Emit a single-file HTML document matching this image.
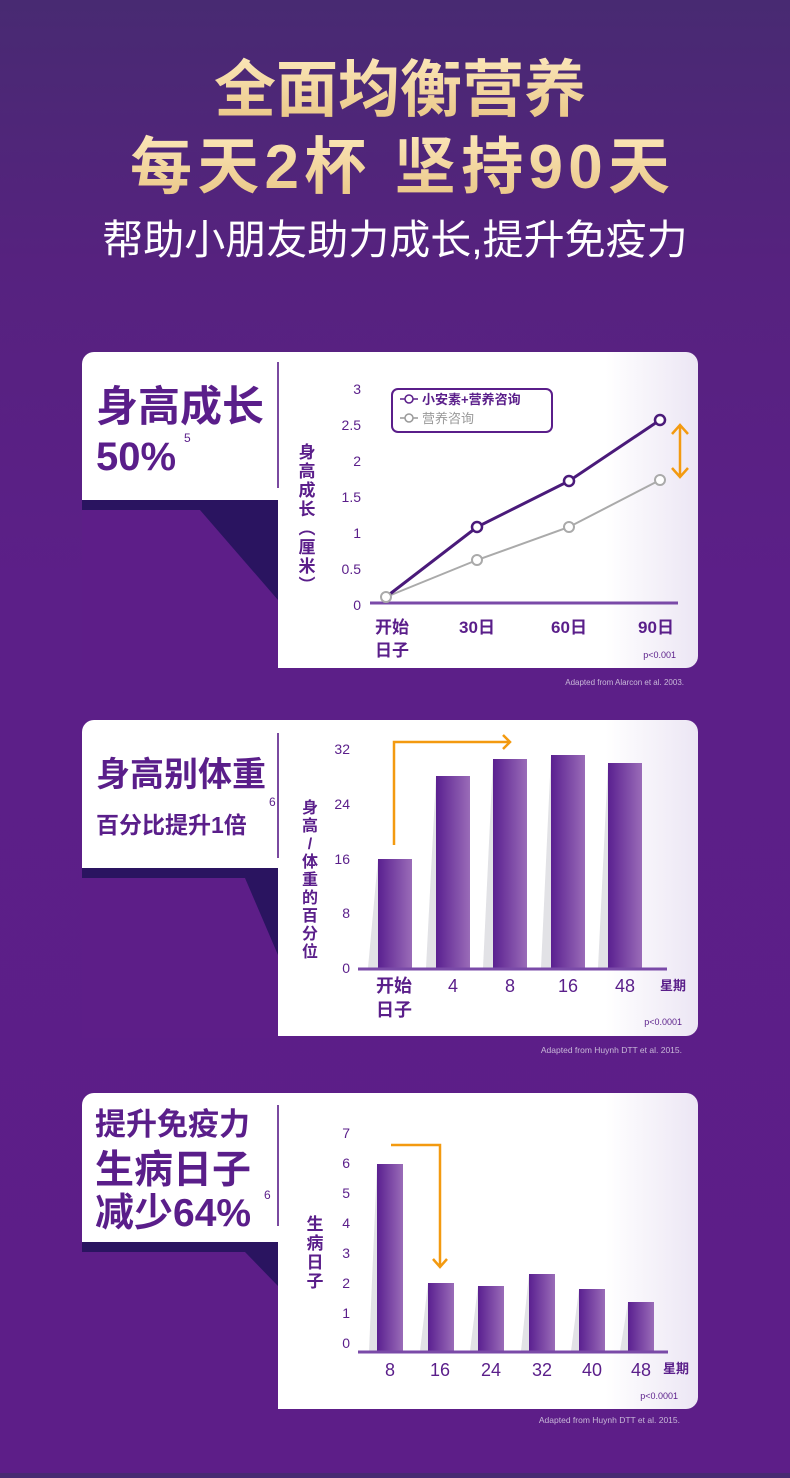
<!DOCTYPE html>
<html><head><meta charset="utf-8"><style>
html,body{margin:0;padding:0}
body{width:790px;height:1473px;overflow:hidden;background:linear-gradient(180deg,#482a72 0%,#56227f 18%,#5c1f88 40%,#5d1e88 100%);font-family:"Liberation Sans","Noto Sans CJK SC",sans-serif}
svg text{font-family:"Liberation Sans","Noto Sans CJK SC",sans-serif}
</style></head><body>
<svg width="790" height="1473" viewBox="0 0 790 1473" xmlns="http://www.w3.org/2000/svg">
<defs>
<linearGradient id="gold" x1="0" y1="0" x2="0" y2="1"><stop offset="0" stop-color="#fbe6b8"/><stop offset="1" stop-color="#e9c585"/></linearGradient>
<linearGradient id="bar" x1="0" y1="0" x2="1" y2="0"><stop offset="0" stop-color="#5a2090"/><stop offset="1" stop-color="#9a6cb8"/></linearGradient>
<linearGradient id="card" x1="0" y1="0" x2="1" y2="0"><stop offset="0" stop-color="#fff"/><stop offset="0.85" stop-color="#fff"/><stop offset="1" stop-color="#ece6f4"/></linearGradient>
</defs>
<text x="400" y="111" text-anchor="middle" font-size="62" font-weight="bold" fill="url(#gold)">全面均衡营养</text>
<text x="400" y="188" text-anchor="middle" font-size="62" font-weight="bold" fill="url(#gold)" textLength="540" lengthAdjust="spacing">每天2杯  坚持90天</text>
<text x="395" y="254" text-anchor="middle" font-size="41" fill="#fff">帮助小朋友助力成长,提升免疫力</text>

<!-- Card 1 -->
<g>
<rect x="82" y="352" width="616" height="316" rx="12" fill="url(#card)"/>
<rect x="82" y="500" width="196" height="170" fill="#5d1e88"/>
<path d="M82 500 L278 500 L278 600 L200 510 L82 510 Z" fill="#2a1460"/>
<path d="M82 490 Q82 500 92 500 L278 500 L278 490 Z" fill="#fff"/>
<line x1="278" y1="362" x2="278" y2="488" stroke="#7a4aa0" stroke-width="2"/>
<text x="96" y="421" font-size="42" font-weight="bold" fill="#5a1e8a">身高成长</text>
<text x="96" y="470" font-size="40" font-weight="bold" fill="#5a1e8a">50%</text>
<text x="184" y="442" font-size="12" fill="#5a1e8a">5</text>
<g font-size="14" fill="#5a1e8a" text-anchor="end">
<text x="361" y="394">3</text><text x="361" y="430">2.5</text><text x="361" y="466">2</text><text x="361" y="502">1.5</text><text x="361" y="538">1</text><text x="361" y="574">0.5</text><text x="361" y="610">0</text></g>
<g font-size="17" font-weight="bold" fill="#5a1e8a" text-anchor="middle">
<text x="307" y="458">身</text><text x="307" y="477">高</text><text x="307" y="496">成</text><text x="307" y="515">长</text><text x="307" y="534">︵</text><text x="307" y="553">厘</text><text x="307" y="572">米</text><text x="307" y="591">︶</text></g>
<line x1="370" y1="603" x2="678" y2="603" stroke="#7a4aa8" stroke-width="3"/>
<rect x="392" y="389" width="160" height="43" rx="6" fill="#fff" stroke="#5a1e8a" stroke-width="2"/>
<line x1="400" y1="399" x2="418" y2="399" stroke="#5a1e8a" stroke-width="1.5"/><circle cx="409" cy="399" r="4" fill="#fff" stroke="#5a1e8a" stroke-width="1.5"/>
<text x="422" y="404" font-size="13" font-weight="bold" fill="#5a1e8a">小安素+营养咨询</text>
<line x1="400" y1="418" x2="418" y2="418" stroke="#999" stroke-width="1.5"/><circle cx="409" cy="418" r="4" fill="#fff" stroke="#999" stroke-width="1.5"/>
<text x="422" y="423" font-size="13" fill="#999">营养咨询</text>
<polyline points="386,597 477,560 569,527 660,480" fill="none" stroke="#aaa" stroke-width="2"/>
<polyline points="386,597 477,527 569,481 660,420" fill="none" stroke="#4a1a7a" stroke-width="3"/>
<g fill="#fff" stroke="#aaa" stroke-width="2"><circle cx="386" cy="597" r="5"/><circle cx="477" cy="560" r="5"/><circle cx="569" cy="527" r="5"/><circle cx="660" cy="480" r="5"/></g>
<g fill="#fff" stroke="#4a1a7a" stroke-width="2.5"><circle cx="477" cy="527" r="5"/><circle cx="569" cy="481" r="5"/><circle cx="660" cy="420" r="5"/></g>
<path d="M680 425 L680 477 M672 434 L680 425 L688 434 M672 468 L680 477 L688 468" fill="none" stroke="#f39a10" stroke-width="2.5"/>
<g font-size="17" font-weight="bold" fill="#5a1e8a" text-anchor="middle">
<text x="392" y="633">开始</text><text x="392" y="656">日子</text><text x="477" y="633">30日</text><text x="569" y="633">60日</text><text x="656" y="633">90日</text></g>
<text x="676" y="658" text-anchor="end" font-size="9" fill="#5a1e8a">p&lt;0.001</text>
<text x="684" y="685" text-anchor="end" font-size="8" fill="#c8b8d8" font-family="Liberation Mono">Adapted from Alarcon et al. 2003.</text>
</g>

<!-- Card 2 -->
<g>
<rect x="82" y="720" width="616" height="316" rx="12" fill="url(#card)"/>
<rect x="82" y="868" width="196" height="170" fill="#5d1e88"/>
<path d="M82 868 L278 868 L278 955 L245 878 L82 878 Z" fill="#2a1460"/>
<path d="M82 858 Q82 868 92 868 L278 868 L278 858 Z" fill="#fff"/>
<line x1="278" y1="733" x2="278" y2="858" stroke="#7a4aa0" stroke-width="2"/>
<text x="96" y="786" font-size="34" font-weight="bold" fill="#5a1e8a">身高别体重</text>
<text x="96" y="833" font-size="23" font-weight="bold" fill="#5a1e8a">百分比提升1倍</text>
<text x="269" y="806" font-size="12" fill="#5a1e8a">6</text>
<g font-size="14" fill="#5a1e8a" text-anchor="end">
<text x="350" y="754">32</text><text x="350" y="809">24</text><text x="350" y="864">16</text><text x="350" y="918">8</text><text x="350" y="973">0</text></g>
<g font-size="16" font-weight="bold" fill="#5a1e8a" text-anchor="middle">
<text x="310" y="813">身</text><text x="310" y="831">高</text><text x="310" y="849">/</text><text x="310" y="867">体</text><text x="310" y="885">重</text><text x="310" y="903">的</text><text x="310" y="921">百</text><text x="310" y="939">分</text><text x="310" y="957">位</text></g>
<g fill="#e2e2e6">
<polygon points="368,968 378,859 378,968"/><polygon points="426,968 436,776 436,968"/><polygon points="483,968 493,759 493,968"/><polygon points="541,968 551,755 551,968"/><polygon points="598,968 608,763 608,968"/></g>
<g fill="url(#bar)">
<rect x="378" y="859" width="34" height="109"/><rect x="436" y="776" width="34" height="192"/><rect x="493" y="759" width="34" height="209"/><rect x="551" y="755" width="34" height="213"/><rect x="608" y="763" width="34" height="205"/></g>
<line x1="358" y1="969" x2="667" y2="969" stroke="#7a4aa8" stroke-width="3"/>
<path d="M394 845 L394 742 L510 742 M503 735 L510 742 L503 749" fill="none" stroke="#f39a10" stroke-width="2.5"/>
<g font-size="18" fill="#5a1e8a" text-anchor="middle">
<text x="394" y="992" font-weight="bold">开始</text><text x="394" y="1016" font-weight="bold">日子</text><text x="453" y="992">4</text><text x="510" y="992">8</text><text x="568" y="992">16</text><text x="625" y="992">48</text></g>
<text x="673" y="990" text-anchor="middle" font-size="13" font-weight="bold" fill="#5a1e8a">星期</text>
<text x="682" y="1025" text-anchor="end" font-size="9" fill="#5a1e8a">p&lt;0.0001</text>
<text x="682" y="1053" text-anchor="end" font-size="8.5" fill="#c8b8d8">Adapted from Huynh DTT et al. 2015.</text>
</g>

<!-- Card 3 -->
<g>
<rect x="82" y="1093" width="616" height="316" rx="12" fill="url(#card)"/>
<rect x="82" y="1242" width="196" height="170" fill="#5d1e88"/>
<path d="M82 1242 L278 1242 L278 1286 L245 1252 L82 1252 Z" fill="#2a1460"/>
<path d="M82 1232 Q82 1242 92 1242 L278 1242 L278 1232 Z" fill="#fff"/>
<line x1="278" y1="1105" x2="278" y2="1226" stroke="#7a4aa0" stroke-width="2"/>
<text x="95" y="1135" font-size="31" font-weight="bold" fill="#5a1e8a">提升免疫力</text>
<text x="95" y="1183" font-size="39" font-weight="bold" fill="#5a1e8a">生病日子</text>
<text x="95" y="1226" font-size="39" font-weight="bold" fill="#5a1e8a">减少64%</text>
<text x="264" y="1199" font-size="12" fill="#5a1e8a">6</text>
<g font-size="14" fill="#5a1e8a" text-anchor="end">
<text x="350" y="1138">7</text><text x="350" y="1168">6</text><text x="350" y="1198">5</text><text x="350" y="1228">4</text><text x="350" y="1258">3</text><text x="350" y="1288">2</text><text x="350" y="1318">1</text><text x="350" y="1348">0</text></g>
<g font-size="17" font-weight="bold" fill="#5a1e8a" text-anchor="middle">
<text x="315" y="1230">生</text><text x="315" y="1249">病</text><text x="315" y="1268">日</text><text x="315" y="1287">子</text></g>
<g fill="#e2e2e6">
<polygon points="369,1351 377,1164 377,1351"/><polygon points="420,1351 428,1283 428,1351"/><polygon points="470,1351 478,1286 478,1351"/><polygon points="521,1351 529,1274 529,1351"/><polygon points="571,1351 579,1289 579,1351"/><polygon points="620,1351 628,1302 628,1351"/></g>
<g fill="url(#bar)">
<rect x="377" y="1164" width="26" height="187"/><rect x="428" y="1283" width="26" height="68"/><rect x="478" y="1286" width="26" height="65"/><rect x="529" y="1274" width="26" height="77"/><rect x="579" y="1289" width="26" height="62"/><rect x="628" y="1302" width="26" height="49"/></g>
<line x1="358" y1="1352" x2="668" y2="1352" stroke="#7a4aa8" stroke-width="3"/>
<path d="M391 1145 L440 1145 L440 1266 M433 1259 L440 1267 L447 1259" fill="none" stroke="#f39a10" stroke-width="2.5"/>
<g font-size="18" fill="#5a1e8a" text-anchor="middle">
<text x="390" y="1376">8</text><text x="440" y="1376">16</text><text x="491" y="1376">24</text><text x="542" y="1376">32</text><text x="592" y="1376">40</text><text x="641" y="1376">48</text></g>
<text x="676" y="1373" text-anchor="middle" font-size="13" font-weight="bold" fill="#5a1e8a">星期</text>
<text x="678" y="1399" text-anchor="end" font-size="9" fill="#5a1e8a">p&lt;0.0001</text>
<text x="680" y="1423" text-anchor="end" font-size="8.5" fill="#c8b8d8">Adapted from Huynh DTT et al. 2015.</text>
</g>
</svg>
</body></html>
